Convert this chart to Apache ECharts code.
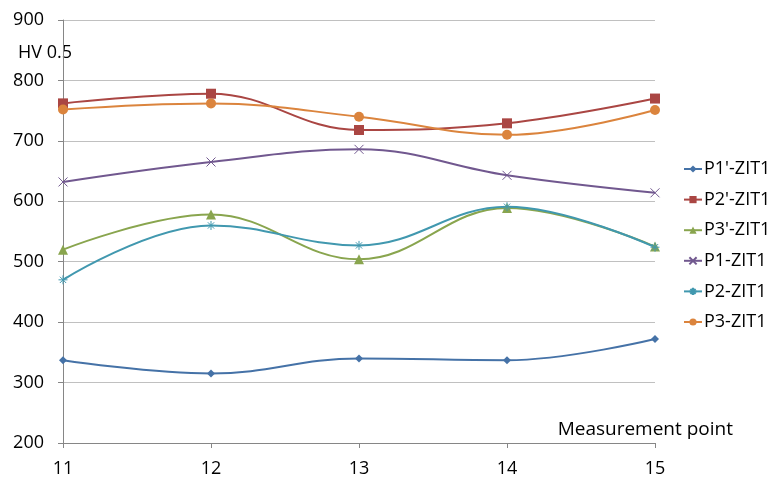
<!DOCTYPE html>
<html><head><meta charset="utf-8">
<script src="https://cdn.jsdelivr.net/npm/echarts@6/dist/echarts.min.js"></script>
<style>html,body{margin:0;padding:0;background:#fff}#c{width:772px;height:479px}</style>
</head><body><div id="c"></div>
<script>
const points = [11, 12, 13, 14, 15];
const seriesNames = ["P1'-ZIT1", "P2'-ZIT1", "P3'-ZIT1", "P1-ZIT1", "P2-ZIT1", "P3-ZIT1"];
const p1p = [337, 315, 340, 337, 372];
const p2p = [762, 778, 718, 729, 770];
const p3p = [520, 578, 504, 589, 525];
const p1 = [632, 665, 686, 643, 614];
const p2 = [470, 560, 527, 591, 524];
const p3 = [752, 762, 740, 710, 751];
const yTicks = [200, 300, 400, 500, 600, 700, 800, 900];

const colors = ['#4572A7', '#AA4643', '#89A54E', '#71588F', '#4198AF', '#DB843D'];
const symbols = ['diamond', 'rect', 'triangle',
  'path://M0,0L10,10M10,0L0,10',
  'path://M0,5L10,5M5,0L5,10M1.5,1.5L8.5,8.5M8.5,1.5L1.5,8.5',
  'circle'];
const sizes = [8, 10, 10, 9, 9, 10];
const datas = [p1p, p2p, p3p, p1, p2, p3];
const FONT = 'Open Sans';

const series = seriesNames.map((n, i) => {
  const stroke = i === 3 || i === 4;
  return {
    name: n, type: 'line', smooth: 0.4,
    data: points.map((x, k) => [x, datas[i][k]]),
    symbol: symbols[i], symbolSize: sizes[i],
    lineStyle: { color: colors[i], width: 2 },
    itemStyle: stroke ? { color: 'rgba(0,0,0,0)', borderColor: colors[i], borderWidth: 1 } : { color: colors[i] },
    emphasis: { disabled: true }
  };
});

const chart = echarts.init(document.getElementById('c'));
chart.setOption({
  animation: false,
  color: colors,
  grid: { left: 63, right: 117, top: 20, bottom: 36 },
  legend: {
    orient: 'vertical', left: 683, top: 160, itemGap: 12.6, padding: 0,
    itemWidth: 18, itemHeight: 9,
    textStyle: { fontFamily: FONT, fontSize: 18, color: '#000', padding: [0, 0, 0, -3] },
    data: seriesNames
  },
  xAxis: {
    type: 'value', min: 11, max: 15, interval: 1,
    name: 'Measurement point', nameLocation: 'end',
    nameGap: 0,
    nameTextStyle: { fontFamily: FONT, fontSize: 19, color: '#000', align: 'right', verticalAlign: 'bottom', padding: [0, -78, 4, 0] },
    axisLine: { lineStyle: { color: '#868686' } },
    axisTick: { show: true, length: 5, lineStyle: { color: '#868686' } },
    axisLabel: { fontFamily: FONT, fontSize: 18, color: '#000', margin: 17 },
    splitLine: { show: false }
  },
  yAxis: {
    type: 'value', min: yTicks[0], max: yTicks[yTicks.length - 1], interval: 100,
    name: 'HV 0.5', nameLocation: 'end', nameGap: 0,
    nameTextStyle: { fontFamily: FONT, fontSize: 18, color: '#000', align: 'left', verticalAlign: 'top', padding: [24, 0, 0, -45] },
    axisLine: { show: true, lineStyle: { color: '#868686' } },
    axisTick: { show: true, length: 5, lineStyle: { color: '#868686' } },
    axisLabel: { fontFamily: FONT, fontSize: 18, color: '#000', margin: 19 },
    splitLine: { lineStyle: { color: '#c0c0c0' } }
  },
  series: series
});
</script></body></html>
